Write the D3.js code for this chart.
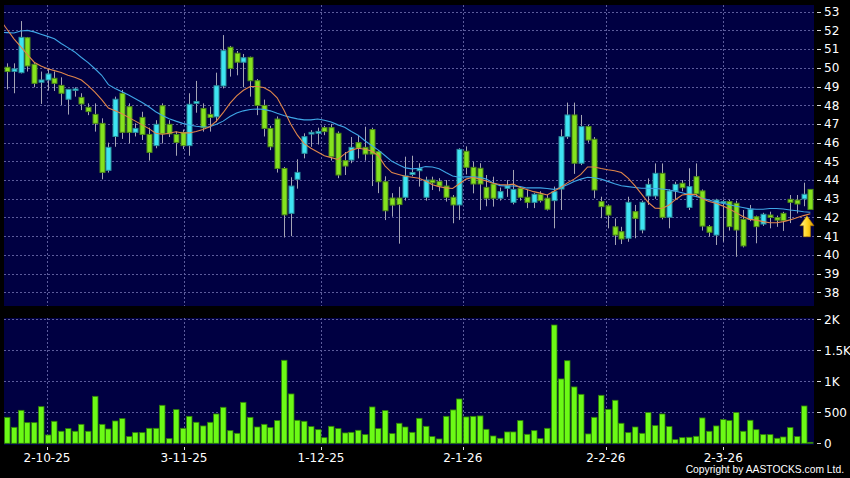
<!DOCTYPE html>
<html>
<head>
<meta charset="utf-8">
<script src="https://cdn.jsdelivr.net/npm/d3@7/dist/d3.min.js"></script>
<style>
  body { margin: 0; background: #000; }
  svg { display: block; font-family: "DejaVu Sans", sans-serif; }
</style>
</head>
<body>
<svg width="850" height="478"></svg>
<script>
// daily candles, oldest first
var opens = [50.03,49.81,49.74,51.61,50.19,49.23,49.35,49.44,49.06,48.32,48.85,48.42,47.89,47.51,47.03,44.52,46.33,48.64,47.92,46.55,
  47.35,46.44,45.84,47.97,46.98,46.44,46.55,45.84,48.10,47.83,47.51,47.38,49.03,51.10,50.78,50.30,50.56,49.31,47.99,46.76,
  47.26,44.62,42.22,44.04,45.43,46.46,46.50,46.80,46.80,46.50,45.04,45.07,46.00,45.75,46.70,45.52,43.91,43.04,43.04,43.08,
  44.30,44.50,43.08,44.00,43.92,43.68,43.08,42.67,45.54,44.68,44.63,43.61,43.79,43.03,43.56,42.81,43.56,43.08,42.81,43.24,
  43.03,42.90,43.52,46.32,47.48,44.90,46.86,46.18,42.85,42.62,41.50,41.24,40.89,42.31,41.33,43.15,43.15,44.36,42.01,43.42,
  43.83,42.54,44.18,43.42,41.51,41.06,42.80,42.85,42.76,41.90,41.90,42.04,41.65,42.13,41.99,42.22,42.97,42.93,42.99,43.50];
var highs = [50.24,50.24,52.50,51.65,50.25,49.80,49.97,49.80,49.49,48.85,48.96,48.64,48.10,48.10,47.30,46.00,48.46,48.82,48.10,47.03,
  47.65,46.80,47.20,48.10,47.20,46.60,46.70,48.64,49.30,48.10,47.92,49.74,51.75,51.17,50.90,50.74,50.60,49.40,48.30,46.90,
  47.40,44.70,44.15,45.11,46.50,46.67,46.80,46.90,47.00,46.60,45.50,46.30,46.40,46.85,46.80,45.60,44.20,43.30,43.64,45.25,
  45.30,44.90,44.18,44.18,44.10,44.00,43.20,45.70,45.80,44.98,44.90,44.27,44.18,43.60,44.00,44.54,43.65,43.47,43.30,43.40,
  43.20,43.65,46.71,48.14,48.14,47.48,46.95,46.30,43.11,42.70,41.95,41.50,43.11,42.67,42.90,44.09,44.89,44.89,43.50,43.91,
  44.00,44.63,44.89,43.50,41.60,43.00,42.95,42.93,42.90,42.40,42.67,42.10,42.25,42.31,42.10,42.30,43.20,43.20,43.86,43.50];
var lows = [48.85,48.64,49.70,49.80,48.96,48.07,48.78,48.76,48.01,47.50,48.46,47.74,47.47,46.59,44.04,44.40,45.78,46.20,45.96,46.33,
  46.14,45.04,45.70,45.96,46.30,45.30,45.66,45.30,47.60,46.59,46.59,47.10,48.90,49.53,49.60,48.96,48.46,47.47,46.33,45.60,
  44.40,40.93,41.00,43.54,45.16,45.78,45.90,46.40,45.04,44.10,44.27,44.90,45.16,45.04,43.68,43.30,41.86,42.04,40.60,42.90,
  44.20,43.65,42.90,43.47,43.40,42.85,41.69,41.87,44.30,43.29,42.40,42.60,42.58,42.90,43.10,42.70,42.90,42.50,42.50,42.80,
  42.37,41.42,42.40,46.20,44.33,44.80,46.00,43.03,41.96,41.42,40.53,40.58,40.70,40.89,41.15,42.67,43.00,41.90,41.42,42.93,
  43.40,42.40,43.10,41.30,40.97,40.53,40.70,41.30,39.90,40.40,41.80,40.62,41.55,41.42,41.50,41.28,41.70,42.22,42.60,42.43];
var closes = [49.80,49.94,51.63,50.10,49.17,49.35,49.67,49.17,48.64,48.85,48.87,48.07,47.66,47.03,44.41,45.75,48.32,46.55,46.55,46.76,
  46.44,45.48,46.98,46.47,46.47,46.01,45.84,48.05,48.20,46.80,47.35,49.04,50.92,49.97,50.30,50.54,49.31,47.99,46.76,45.78,
  44.62,42.14,43.68,44.41,46.32,46.55,46.60,46.59,45.25,44.27,44.75,45.75,45.70,45.39,45.39,43.91,42.36,42.66,42.69,44.22,
  44.40,44.63,44.00,43.85,43.68,43.08,42.67,45.64,44.68,43.79,43.79,43.03,43.03,43.38,43.70,43.50,43.08,42.81,43.24,42.90,
  42.44,43.38,46.32,47.48,44.90,46.86,46.14,43.47,42.58,42.13,41.06,40.85,42.81,41.95,42.81,43.77,44.36,42.01,43.42,43.77,
  43.59,43.65,43.26,41.54,41.21,42.93,42.85,41.51,41.33,40.48,42.44,41.51,42.17,42.00,41.86,41.83,42.81,42.72,43.24,42.43];
var volumes = [419,258,532,333,333,591,134,355,194,237,194,306,194,758,306,231,360,398,108,172,
  172,242,242,613,75,543,242,435,339,280,339,473,581,204,161,661,419,263,306,253,
  366,1339,796,371,355,269,220,91,274,237,167,177,210,140,586,237,527,156,323,263,
  177,403,274,108,70,435,538,715,425,435,441,226,118,81,183,183,366,145,204,75,
  242,1908,1038,1332,909,790,151,419,774,548,694,323,172,263,161,495,285,473,269,59,
  91,97,113,409,194,280,382,366,495,194,371,220,140,140,81,102,253,108,602,16];
// moving averages as drawn (orange short, blue long); first value is the day before the window
var maShort = [52.55,52.05,51.55,51.13,50.7,50.3,50.1,49.95,49.85,49.75,49.6,49.5,49.35,49.05,48.7,48.3,47.85,47.7,47.55,47.35,47.15,
  46.95,46.75,46.5,46.45,46.5,46.58,46.52,46.52,46.6,46.7,46.85,47.15,47.6,48.1,48.5,48.8,49.0,49.0,48.95,48.75,
  48.4,47.75,47.0,46.4,45.95,45.7,45.5,45.3,45.2,45.1,45.4,45.6,45.7,45.65,45.55,45.3,44.75,44.4,44.3,44.2,
  44.15,44.1,43.95,43.75,43.65,43.58,43.55,43.8,44.05,44.15,44.05,43.95,43.83,43.76,43.74,43.78,43.6,43.5,43.38,43.3,
  43.2,43.4,43.6,43.85,44.05,44.3,44.7,44.7,44.62,44.55,44.5,44.4,44.1,43.7,43.25,42.8,42.5,42.48,42.65,42.95,
  43.2,43.25,43.22,43.0,42.85,42.76,42.62,42.45,42.26,42.05,41.9,41.86,41.78,41.72,41.72,41.78,41.87,41.98,42.1,42.2];
var maLong = [51.9,51.88,51.86,51.97,52.0,51.92,51.8,51.68,51.55,51.3,51.08,50.85,50.55,50.28,49.95,49.6,49.1,48.9,48.72,48.55,48.35,
  48.15,47.92,47.65,47.45,47.28,47.15,47.03,46.94,46.88,46.84,46.85,46.98,47.15,47.4,47.58,47.7,47.77,47.8,47.78,47.7,
  47.57,47.45,47.35,47.27,47.22,47.22,47.26,47.2,47.1,46.95,46.82,46.6,46.4,46.1,45.85,45.6,45.3,45.0,44.82,44.65,
  44.6,44.63,44.72,44.7,44.6,44.4,44.22,44.15,44.18,44.17,44.15,44.05,43.85,43.7,43.68,43.68,43.65,43.58,43.58,43.58,
  43.55,43.5,43.6,43.75,43.92,44.05,44.15,44.12,44.05,43.93,43.8,43.7,43.65,43.6,43.56,43.56,43.55,43.52,43.48,43.4,
  43.32,43.22,43.12,43.03,42.93,42.83,42.76,42.68,42.6,42.53,42.46,42.44,42.44,42.48,42.48,42.45,42.4,42.36,42.31,42.28];
var dateTicks = [5.9, 26.2, 46.5, 67.5, 88.7, 106.1];
var dateLabels = ['2-10-25', '3-11-25', '1-12-25', '2-1-26', '2-2-26', '2-3-26'];
var priceTicks = [38,39,40,41,42,43,44,45,46,47,48,49,50,51,52,53];
var volTicks = [0, 500, 1000, 1500, 2000];
var volLabels = ['0', '500', '1K', '1.5K', '2K'];

var svg = d3.select('svg');
var left = 4, right = 814;
var n = closes.length;

var x = d3.scaleLinear().domain([-0.5, n - 0.5]).range([3.8, 813.7]);
var y = d3.scaleLinear().domain([38, 53]).range([292.3, 11.7]);
var yv = d3.scaleLinear().domain([0, 2000]).range([443.3, 319.3]);

var defs = svg.append('defs');
defs.append('clipPath').attr('id', 'pclip').append('rect')
    .attr('x', left).attr('y', 5).attr('width', right - left).attr('height', 301);

// panels
svg.append('rect').attr('x', left).attr('y', 5).attr('width', right - left).attr('height', 301).attr('fill', '#000042');
svg.append('rect').attr('x', left).attr('y', 318).attr('width', right - left).attr('height', 127).attr('fill', '#000042');

var grid = svg.append('g')
    .attr('stroke', '#5c5c9c')
    .attr('stroke-dasharray', '2,2')
    .attr('stroke-width', 1);
grid.selectAll('line.h').data(priceTicks).enter().append('line')
    .attr('x1', left).attr('x2', right)
    .attr('y1', function(d) { return Math.round(y(d)) + 0.5; })
    .attr('y2', function(d) { return Math.round(y(d)) + 0.5; });
grid.selectAll('line.vh').data(volTicks.slice(1)).enter().append('line')
    .attr('x1', left).attr('x2', right)
    .attr('y1', function(d) { return Math.round(yv(d)) + 0.5; })
    .attr('y2', function(d) { return Math.round(yv(d)) + 0.5; });
grid.selectAll('line.v1').data(dateTicks).enter().append('line')
    .attr('x1', function(d) { return Math.round(x(d)) + 0.5; })
    .attr('x2', function(d) { return Math.round(x(d)) + 0.5; })
    .attr('y1', 5).attr('y2', 306);
grid.selectAll('line.v2').data(dateTicks).enter().append('line')
    .attr('x1', function(d) { return Math.round(x(d)) + 0.5; })
    .attr('x2', function(d) { return Math.round(x(d)) + 0.5; })
    .attr('y1', 318).attr('y2', 444);

// candles
var idx = d3.range(n);
var candles = svg.append('g');
candles.selectAll('line').data(idx).enter().append('line')
    .attr('x1', function(i) { return Math.round(x(i)) + 0.5; })
    .attr('x2', function(i) { return Math.round(x(i)) + 0.5; })
    .attr('y1', function(i) { return y(highs[i]); })
    .attr('y2', function(i) { return y(lows[i]); })
    .attr('stroke', '#a4a4b4')
    .attr('stroke-width', 1);
candles.selectAll('rect').data(idx).enter().append('rect')
    .attr('x', function(i) { return Math.round(x(i)) - 2; })
    .attr('width', 5)
    .attr('y', function(i) { return y(Math.max(opens[i], closes[i])); })
    .attr('height', function(i) { return Math.max(1.5, Math.abs(y(opens[i]) - y(closes[i]))); })
    .attr('fill', function(i) { return closes[i] >= opens[i] ? '#3ee4f2' : '#84e21e'; })
    .attr('stroke', function(i) { return closes[i] >= opens[i] ? '#2a8e9c' : '#4f8a18'; })
    .attr('stroke-width', 1);

// moving averages (index shifted by one for the leading value)
var line = d3.line()
    .x(function(d, i) { return x(i - 1); })
    .y(function(d) { return y(d); });
var maG = svg.append('g').attr('clip-path', 'url(#pclip)').attr('fill', 'none').attr('stroke-width', 1.1);
maG.append('path').datum(maLong).attr('d', line).attr('stroke', '#3fa6e6');
maG.append('path').datum(maShort).attr('d', line).attr('stroke', '#e0864a');

// arrow at the end of the short average
var grad = defs.append('linearGradient').attr('id', 'arr').attr('x1', 0).attr('y1', 0).attr('x2', 1).attr('y2', 0);
grad.append('stop').attr('offset', '0%').attr('stop-color', '#fff59a');
grad.append('stop').attr('offset', '55%').attr('stop-color', '#ffd21a');
grad.append('stop').attr('offset', '100%').attr('stop-color', '#d99400');
var tx = x(n - 1.5), ty = y(maShort[maShort.length - 1]) + 2;
svg.append('path')
    .attr('d', 'M' + tx + ',' + ty + 'l7,10h-3.5v11h-7v-11h-3.5z')
    .attr('fill', 'url(#arr)')
    .attr('stroke', '#b07a00')
    .attr('stroke-width', 0.6);

// volume
svg.append('g').selectAll('rect').data(idx).enter().append('rect')
    .attr('x', function(i) { return Math.round(x(i)) - 2.5; })
    .attr('width', 5.5)
    .attr('y', function(i) { return yv(volumes[i]); })
    .attr('height', function(i) { return yv(0) - yv(volumes[i]); })
    .attr('fill', '#6cfa16')
    .attr('stroke', '#2f7f08')
    .attr('stroke-width', 0.8);

// right axes
var axisG = svg.append('g').attr('fill', '#fff').attr('font-size', 12);
axisG.selectAll('text.p').data(priceTicks).enter().append('text')
    .attr('x', 824).attr('y', function(d) { return y(d); })
    .attr('dy', '0.36em')
    .text(function(d) { return d; });
axisG.selectAll('text.v').data(volTicks).enter().append('text')
    .attr('x', 824).attr('y', function(d) { return yv(d); })
    .attr('dy', '0.36em')
    .text(function(d, i) { return volLabels[i]; });
var tickG = svg.append('g').attr('stroke', '#ddd').attr('stroke-width', 1);
tickG.selectAll('line.p').data(priceTicks).enter().append('line')
    .attr('x1', 817).attr('x2', 821)
    .attr('y1', function(d) { return Math.round(y(d)) + 0.5; })
    .attr('y2', function(d) { return Math.round(y(d)) + 0.5; });
tickG.selectAll('line.v').data(volTicks).enter().append('line')
    .attr('x1', 817).attr('x2', 821)
    .attr('y1', function(d) { return Math.round(yv(d)) + 0.5; })
    .attr('y2', function(d) { return Math.round(yv(d)) + 0.5; });

// date axis
tickG.selectAll('line.d').data(dateTicks).enter().append('line')
    .attr('x1', function(d) { return Math.round(x(d)) + 0.5; })
    .attr('x2', function(d) { return Math.round(x(d)) + 0.5; })
    .attr('y1', 447).attr('y2', 450);
axisG.selectAll('text.d').data(dateTicks).enter().append('text')
    .attr('x', function(d) { return x(d); })
    .attr('y', 462)
    .attr('text-anchor', 'middle')
    .text(function(d, i) { return dateLabels[i]; });

svg.append('text')
    .attr('x', 844).attr('y', 473)
    .attr('text-anchor', 'end')
    .attr('fill', '#fff')
    .attr('font-family', '"Liberation Sans", Arial, sans-serif')
    .attr('font-size', 10.3)
    .text('Copyright by AASTOCKS.com Ltd.');
</script>
</body>
</html>
